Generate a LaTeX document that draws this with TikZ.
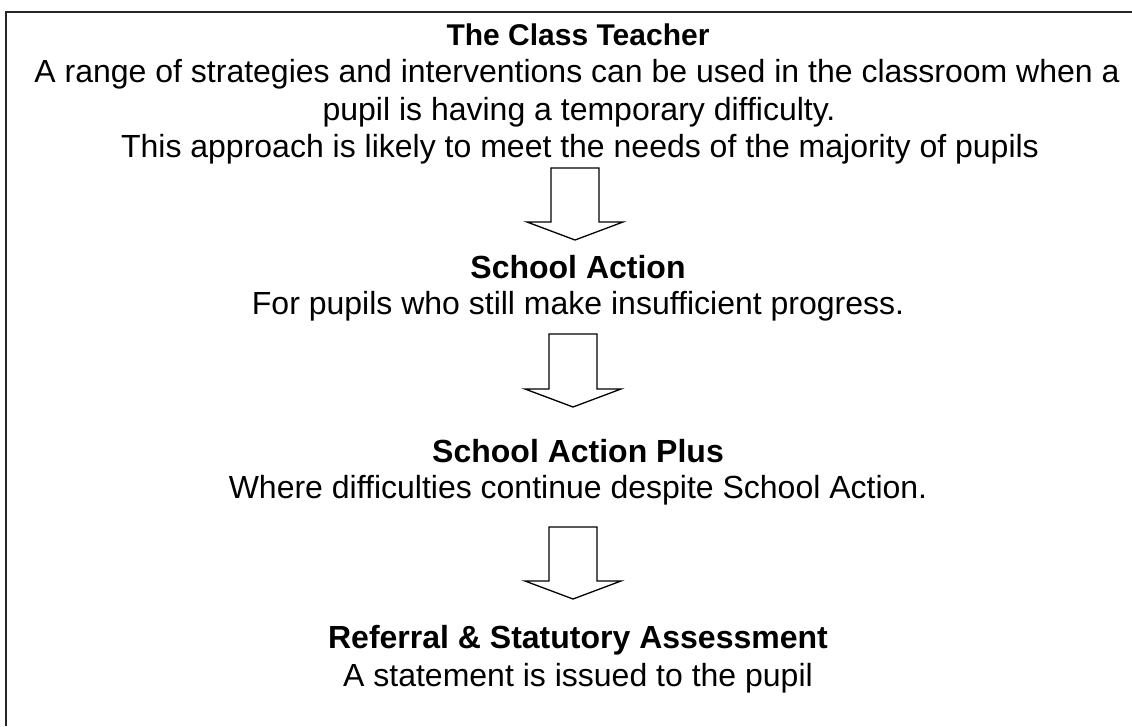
\documentclass[tikz,border=0pt]{standalone}
\usepackage{fontspec}
\setmainfont{Liberation Sans}
\begin{document}
\begin{tikzpicture}[x=1pt,y=-1pt,
  title/.style={anchor=base,inner sep=0pt,font=\fontsize{30}{35}\selectfont\bfseries},
  head/.style={anchor=base,inner sep=0pt,font=\fontsize{32}{37}\selectfont\bfseries},
  body/.style={anchor=base,inner sep=0pt,font=\fontsize{32}{37}\selectfont},
  blockarrow/.style={draw=black,line width=1.3pt,line join=miter,fill=white},
  frame/.style={draw=black!85,line width=2pt}]
\useasboundingbox (0,0) rectangle (1132,726);

% open frame: top and left edges
\draw[frame] (6,726) -- (6,12) -- (1132,12);

% stage 1
\node[title] (t1) at (578,45) {The Class Teacher};
\node[body] (t1a) at (577,82) {A range of strategies and interventions can be used in the classroom when a};
\node[body] (t1b) at (579,120) {pupil is having a temporary difficulty.};
\node[body] (t1c) at (580,157) {This approach is likely to meet the needs of the majority of pupils};

% stage 2
\node[head] (t2) at (578,278) {School Action};
\node[body] (t2a) at (578,314) {For pupils who still make insufficient progress.};

% stage 3
\node[head] (t3) at (578,462) {School Action Plus};
\node[body] (t3a) at (578,498) {Where difficulties continue despite School Action.};

% stage 4
\node[head] (t4) at (578,648) {Referral \& Statutory Assessment};
\node[body] (t4a) at (578,686) {A statement is issued to the pupil};

% block arrows between the stages
\draw[blockarrow] (551,168) -- (599,168) -- (599,222) -- (623,222) -- (575,240)
  -- (527,222) -- (551,222) -- cycle;
\draw[blockarrow] (549,334) -- (597,334) -- (597,389) -- (621,389) -- (573,407)
  -- (525,389) -- (549,389) -- cycle;
\draw[blockarrow] (549,527) -- (597,527) -- (597,581) -- (621,581) -- (573,599)
  -- (525,581) -- (549,581) -- cycle;
\end{tikzpicture}
\end{document}
